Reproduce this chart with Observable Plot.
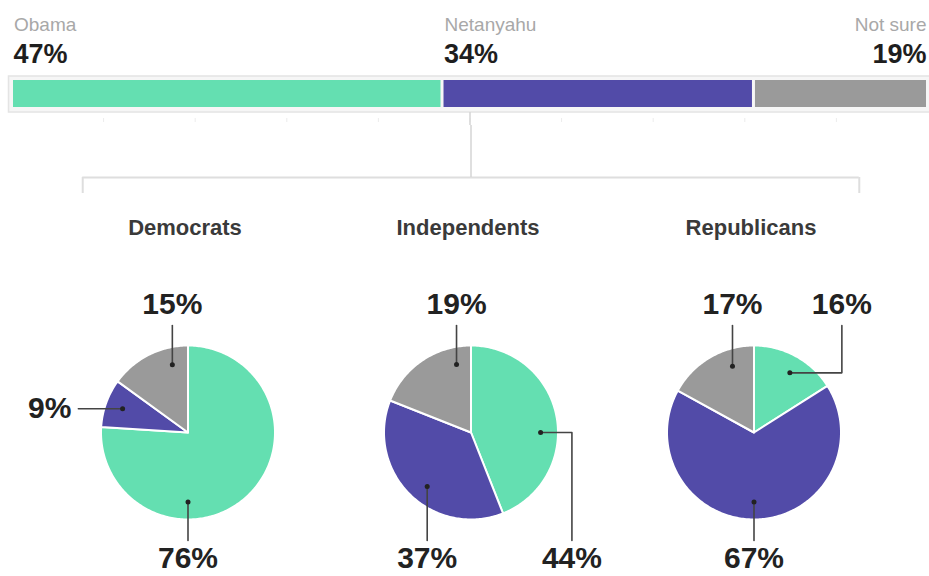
<!DOCTYPE html>
<html>
<head>
<meta charset="utf-8">
<script src="https://cdn.jsdelivr.net/npm/d3@7"></script>
<script src="https://cdn.jsdelivr.net/npm/@observablehq/plot@0.6"></script>
<style>
  body { margin: 0; background: #fff; }
  #chart svg { display: block; }
</style>
</head>
<body>
<div id="chart"></div>
<script>
// ---- data ----
const parties = ["Obama", "Netanyahu", "Not sure"];
const overall = [47, 34, 19];
const groups = ["Democrats", "Independents", "Republicans"];
const democrats = [76, 9, 15];
const independents = [44, 37, 19];
const republicans = [16, 67, 17];
const barTicks = [10, 20, 30, 40, 50, 60, 70, 80, 90];
const partyColors = ["#64dfb1", "#524ba8", "#9a9a9a"];

// ---- annotation layout (where each leader starts, and where its label goes) ----
const labelAngle = {Democrats: [180, 290, 347], Independents: [90, 219, 348], Republicans: [31, 180, 342]};
const labelSide = {Democrats: ["bottom", "left", "top"], Independents: ["elbowDown", "bottom", "top"], Republicans: ["elbowUp", "bottom", "top"]};
const elbowX = {Independents: 1.16, Republicans: 1.01};

const FONT = "'Liberation Sans', Arial, Helvetica, sans-serif";
const groupValues = {Democrats: democrats, Independents: independents, Republicans: republicans};

// ---- top stacked bar ----
let acc = 0;
const barRows = parties.map((p, i) => {
  const r = {party: p, value: overall[i], x1: acc, x2: acc + overall[i], last: i === parties.length - 1};
  acc += overall[i];
  return r;
});
const barMid = (0 + 100) / 2;

const topChart = Plot.plot({
  width: 929, height: 125,
  marginTop: 80, marginBottom: 18, marginLeft: 11.5, marginRight: 1.5,
  x: {domain: [0, 100], axis: null},
  color: {domain: parties, range: partyColors},
  style: {fontFamily: FONT, background: "white"},
  marks: [
    Plot.frame({fill: "#f6f6f6", stroke: "#e4e4e4", strokeWidth: 1.5, insetLeft: -3.5, insetRight: -3.5, insetTop: -4.5, insetBottom: -4.5}),
    Plot.barX(barRows, {x1: "x1", x2: "x2", fill: "party", insetLeft: 1.5, insetRight: 1.5}),
    Plot.ruleX(barTicks, {stroke: "#ececec", insetTop: 38, insetBottom: -15}),
    Plot.ruleX([barMid], {stroke: "#d4d4d4", strokeWidth: 1.5, insetTop: 32, insetBottom: -18}),
    Plot.text(barRows.filter(d => !d.last), {x: "x1", text: "party", frameAnchor: "top", dy: -50, dx: 2, lineAnchor: "bottom", textAnchor: "start", fontSize: 19, fill: "#a8a8a8"}),
    Plot.text(barRows.filter(d => d.last), {x: "x2", text: "party", frameAnchor: "top", dy: -50, dx: -1.5, lineAnchor: "bottom", textAnchor: "end", fontSize: 19, fill: "#a8a8a8"}),
    Plot.text(barRows.filter(d => !d.last), {x: "x1", text: d => d.value + "%", frameAnchor: "top", dy: -18, dx: 1.5, lineAnchor: "bottom", textAnchor: "start", fontSize: 27, fontWeight: "bold", fill: "#1e1e1e"}),
    Plot.text(barRows.filter(d => d.last), {x: "x2", text: d => d.value + "%", frameAnchor: "top", dy: -18, dx: -1.5, lineAnchor: "bottom", textAnchor: "end", fontSize: 27, fontWeight: "bold", fill: "#1e1e1e"})
  ]
});

// ---- pies ----
const PX = 87;               // pixels per pie radius
const pieH = 451, pieCY = 307;
const mL = 46, mR = 34;
const step = (929 - mL - mR) / groups.length;
const halfW = step / 2 / PX;
const yMin = -(pieH - pieCY) / PX, yMax = pieCY / PX;

const slicePts = [];
groups.forEach(g => {
  const vals = groupValues[g];
  const total = d3.sum(vals);
  let a = 0;
  vals.forEach((v, i) => {
    const a0 = a, a1 = a + v / total * 360;
    a = a1;
    const key = g + "|" + parties[i];
    slicePts.push({group: g, party: parties[i], key, x: 0, y: 0});
    const n = Math.max(2, Math.ceil(a1 - a0));
    for (let k = 0; k <= n; k++) {
      const t = (a0 + (a1 - a0) * k / n) * Math.PI / 180;
      slicePts.push({group: g, party: parties[i], key, x: Math.sin(t), y: Math.cos(t)});
    }
    slicePts.push({group: g, party: parties[i], key, x: 0, y: 0});
  });
});

const LR = 0.8, TOPY = 1.23, TOPL = 1.47, BOTY = -1.24, BOTL = -1.445, LEFTX = -1.26, LEFTL = -1.34;
const leaderPts = [], anchors = [], labels = [];
groups.forEach(g => {
  groupValues[g].forEach((v, i) => {
    const t = labelAngle[g][i] * Math.PI / 180;
    const ax = LR * Math.sin(t), ay = LR * Math.cos(t);
    const side = labelSide[g][i];
    let path, lx, ly, anchor = "middle";
    if (side === "top") { path = [[ax, ay], [ax, TOPY]]; lx = ax; ly = TOPL; }
    else if (side === "bottom") { path = [[ax, ay], [ax, BOTY]]; lx = ax; ly = BOTL; }
    else if (side === "left") { path = [[ax, ay], [LEFTX, ay]]; lx = LEFTL; ly = ay; anchor = "end"; }
    else if (side === "elbowDown") { const ex = elbowX[g]; path = [[ax, ay], [ex, ay], [ex, BOTY]]; lx = ex; ly = BOTL; }
    else { const ex = elbowX[g]; path = [[ax, ay], [ex, ay], [ex, TOPY]]; lx = ex; ly = TOPL; }
    const key = g + "|" + parties[i];
    path.forEach(([x, y]) => leaderPts.push({group: g, key, x, y}));
    anchors.push({group: g, x: ax, y: ay});
    labels.push({group: g, x: lx, y: ly, text: v + "%", anchor});
  });
});

const bracketY = yMax - 52 / PX, tickY = bracketY - 16 / PX, bracketEnd = 1.21;
const bracketRows = groups.map((g, i) => ({
  group: g,
  x1: i === 0 ? -bracketEnd : -halfW,
  x2: i === groups.length - 1 ? bracketEnd : halfW
}));
const bracketEnds = [{group: groups[0], x: -bracketEnd}, {group: groups[groups.length - 1], x: bracketEnd}];

const pieChart = Plot.plot({
  width: 929, height: pieH,
  marginTop: 0, marginBottom: 0, marginLeft: mL, marginRight: mR,
  fx: {domain: groups, padding: 0, axis: null},
  x: {domain: [-halfW, halfW], axis: null},
  y: {domain: [yMin, yMax], axis: null},
  color: {domain: parties, range: partyColors},
  style: {fontFamily: FONT, background: "white"},
  marks: [
    Plot.ruleY(bracketRows, {fx: "group", y: bracketY, x1: "x1", x2: "x2", stroke: "#dedede", strokeWidth: 2}),
    Plot.ruleX(bracketEnds, {fx: "group", x: "x", y1: bracketY, y2: tickY, stroke: "#dedede", strokeWidth: 2}),
    Plot.ruleX([{group: groups[1]}], {fx: "group", x: 0, y1: yMax, y2: bracketY, stroke: "#d4d4d4", strokeWidth: 1.5}),
    Plot.text(groups, {fx: d => d, text: d => d, frameAnchor: "top", dy: 94, dx: -3, fontSize: 22, fontWeight: "bold", fill: "#3a3a3a"}),
    Plot.line(slicePts, {fx: "group", x: "x", y: "y", z: "key", fill: "party", stroke: "white", strokeWidth: 2, strokeLinejoin: "round"}),
    Plot.line(leaderPts, {fx: "group", x: "x", y: "y", z: "key", stroke: "#444", strokeWidth: 1.6}),
    Plot.dot(anchors, {fx: "group", x: "x", y: "y", r: 2.5, fill: "#222"}),
    Plot.text(labels.filter(d => d.anchor === "middle"), {fx: "group", x: "x", y: "y", text: "text", textAnchor: "middle", fontSize: 30, fontWeight: "bold", fill: "#222"}),
    Plot.text(labels.filter(d => d.anchor === "end"), {fx: "group", x: "x", y: "y", text: "text", textAnchor: "end", fontSize: 30, fontWeight: "bold", fill: "#222"})
  ]
});

const chart = document.getElementById("chart");
chart.appendChild(topChart);
chart.appendChild(pieChart);
</script>
</body>
</html>
